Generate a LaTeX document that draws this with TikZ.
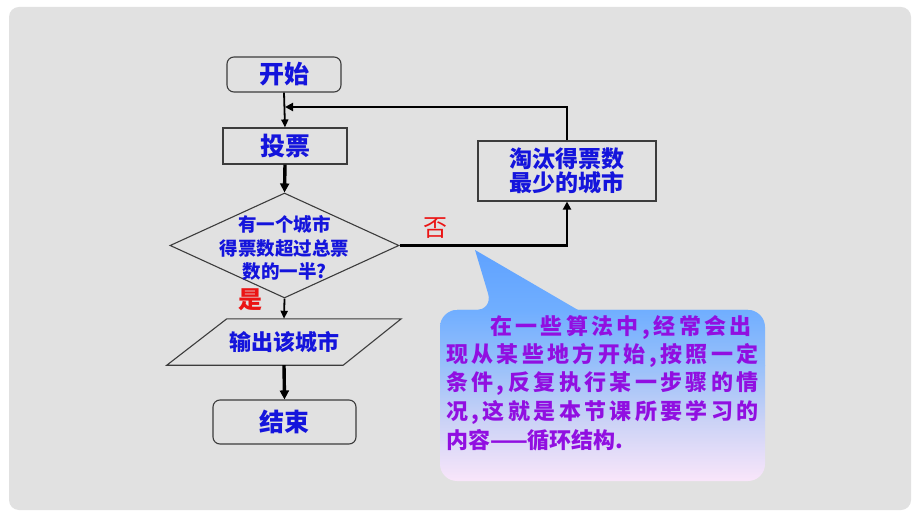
\documentclass[tikz,border=0pt]{standalone}
\usepackage{fontspec}
\newfontfamily\cjk{Noto Sans CJK SC}
\usetikzlibrary{shapes.geometric,arrows.meta,calc}
\definecolor{panelgray}{RGB}{225,225,225}
\definecolor{txtblue}{RGB}{20,20,220}
\definecolor{txtred}{RGB}{235,20,20}
\definecolor{txtpurple}{RGB}{145,15,225}
\definecolor{edgegray}{RGB}{60,60,60}
\definecolor{bubA}{RGB}{95,162,255}
\definecolor{bubB}{RGB}{112,174,255}
\definecolor{bubC}{RGB}{152,192,250}
\definecolor{bubD}{RGB}{202,210,246}
\definecolor{bubE}{RGB}{250,230,250}
\tikzset{
  flowbox/.style={draw=edgegray, line width=1.1pt, inner sep=0pt, font=\cjk\bfseries\color{txtblue}},
  termbox/.style={flowbox, rounded corners=7pt},
  conn/.style={line width=1.8pt, -{Triangle[length=8pt,width=7pt]}},
  connthick/.style={line width=3.4pt, -{Triangle[length=9pt,width=9pt]}},
  plainline/.style={line width=2.8pt},
  bubtext/.style={inner sep=0pt, anchor=west, font=\cjk\bfseries\fontsize{22}{26}\selectfont\color{txtpurple}},
  redlabel/.style={inner sep=0pt, font=\cjk\fontsize{24}{26}\selectfont\color{txtred}}
}
\begin{document}
\begin{tikzpicture}[x=1pt,y=-1pt]
\useasboundingbox (0,0) rectangle (920,518);
\fill[white] (0,0) rectangle (920,518);
\fill[panelgray, rounded corners=10pt] (9,7) rectangle (911,510);

% flowchart nodes
\node[termbox, minimum width=114pt, minimum height=35pt, font=\cjk\bfseries\fontsize{25}{28}\selectfont\color{txtblue}] (start) at (284,74.5) {开始};
\node[flowbox, minimum width=124pt, minimum height=36pt, font=\cjk\bfseries\fontsize{25}{28}\selectfont\color{txtblue}] (vote) at (285,146) {投票};
\node[draw=edgegray, line width=1.1pt, diamond, minimum width=229pt, minimum height=105pt, inner sep=0pt] (d) at (284.5,245.5) {};
\node[inner sep=0pt, align=center, font=\cjk\bfseries\fontsize{18.5}{23.5}\selectfont\color{txtblue}] (dtext) at (284.5,248) {有一个城市\\得票数超过总票\\数的一半?};
\node[minimum width=234pt, minimum height=46pt, inner sep=0pt, font=\cjk\bfseries\fontsize{22}{24}\selectfont\color{txtblue}] (p) at (284,342) {输出该城市};
\draw[edgegray, line width=1.1pt] ($(p.north west)+(60,0)$) -- (p.north east) -- ($(p.south east)+(-58,0)$) -- (p.south west) -- cycle;
\node[termbox, minimum width=143pt, minimum height=44pt, font=\cjk\bfseries\fontsize{25}{28}\selectfont\color{txtblue}] (end) at (284.5,422) {结束};
\node[flowbox, minimum width=178pt, minimum height=60pt, align=center, font=\cjk\bfseries\fontsize{23}{24.5}\selectfont\color{txtblue}] (elim) at (567,171) {淘汰得票数\\最少的城市};

\coordinate (j) at (285,107);

% labels
\node[redlabel] (no) at (435,228) {否};
\node[redlabel, font=\cjk\bfseries\fontsize{24}{26}\selectfont\color{txtred}] (yes) at (250,300) {是};

% connectors
\draw[conn] (start.south) -- (vote.north);
\draw[connthick] (vote.south) -- (d.north);
\draw[conn] (d.south) -- (p.north);
\draw[connthick] (p.south) -- (end.north);
\draw[plainline, -{Triangle[length=8pt,width=8pt]}] (d.east) -| (elim.south);
\draw[plainline, -{Triangle[length=8pt,width=8pt]}] (elim.north) |- (j);

% speech bubble
\begin{scope}
\clip (578,310) [rounded corners=17pt] -- (765,310) -- (765,481) -- (440,481) -- (440,310) -- (493,310)
  [sharp corners] -- (475,250) -- cycle;
\shade[top color=bubA, bottom color=bubB] (430,249) rectangle (770,310.5);
\shade[top color=bubB, bottom color=bubC] (430,310) rectangle (770,365.5);
\shade[top color=bubC, bottom color=bubD] (430,365) rectangle (770,420.5);
\shade[top color=bubD, bottom color=bubE] (430,420) rectangle (770,482);
\end{scope}

\node[bubtext] (t1) at (490,327) {\makebox[257pt][s]{在 一 些 算 法 中 , 经 常 会 出}};
\node[bubtext] (t2) at (446,355) {\makebox[301pt][s]{现 从 某 些 地 方 开 始 , 按 照 一 定}};
\node[bubtext] (t3) at (446,383.5) {\makebox[301pt][s]{条 件 , 反 复 执 行 某 一 步 骤 的 情}};
\node[bubtext] (t4) at (446,412) {\makebox[301pt][s]{况 , 这 就 是 本 节 课 所 要 学 习 的}};
\node[bubtext] (t5) at (446,440) {内容——循环结构.};
\end{tikzpicture}
\end{document}
